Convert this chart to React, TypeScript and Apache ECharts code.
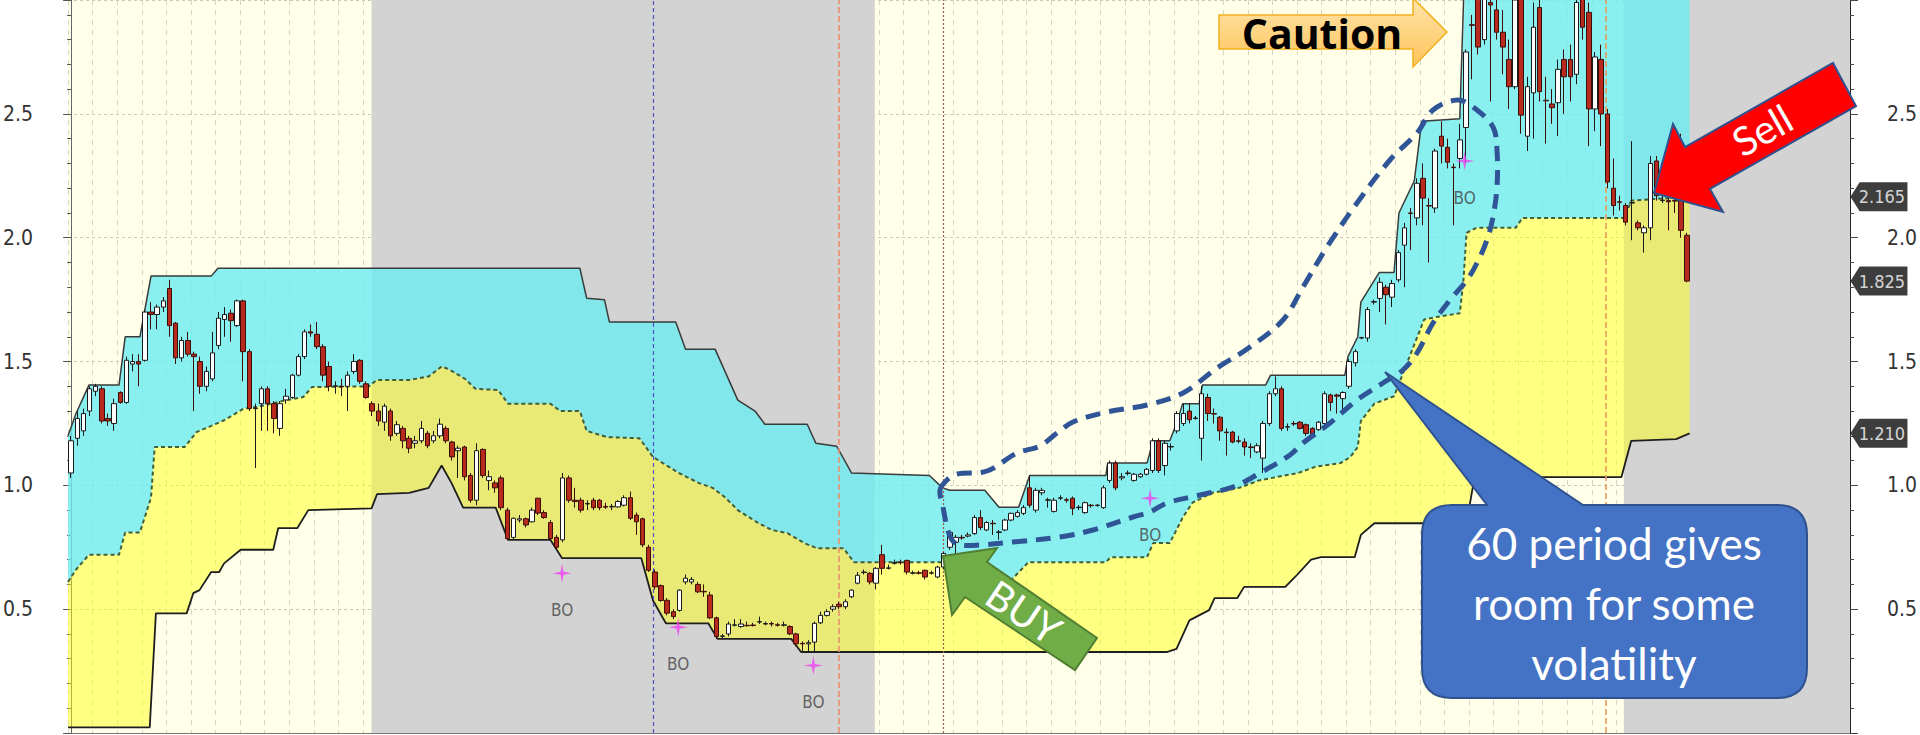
import React, { useEffect, useRef } from "react";
import * as echarts from "echarts";

// ---------- candles: [open, close, low, high] ----------
const candlesA: number[][] = [
  [1.05,1.18,1.03,1.20],[1.19,1.27,1.16,1.30],[1.22,1.29,1.20,1.31],[1.30,1.39,1.28,1.40],[1.38,1.40,1.36,1.41],
  [1.39,1.26,1.25,1.40],[1.27,1.26,1.24,1.29],[1.25,1.33,1.22,1.35],[1.375,1.335,1.33,1.38],[1.335,1.505,1.33,1.52],
  [1.49,1.50,1.46,1.53],[1.50,1.49,1.40,1.53],[1.505,1.70,1.50,1.71],[1.70,1.69,1.63,1.74],[1.69,1.72,1.63,1.73],
  [1.72,1.745,1.70,1.76],[1.795,1.645,1.60,1.83],[1.655,1.515,1.49,1.66],[1.515,1.585,1.50,1.60],[1.585,1.53,1.52,1.62],
  [1.53,1.52,1.30,1.54],[1.50,1.40,1.37,1.52],[1.40,1.46,1.38,1.48],[1.43,1.535,1.42,1.62],[1.565,1.675,1.55,1.70],
  [1.67,1.69,1.60,1.72],[1.695,1.665,1.58,1.71],[1.645,1.745,1.64,1.75],[1.745,1.54,1.42,1.75],[1.54,1.31,1.30,1.55],
  [1.31,1.312,1.07,1.33],[1.33,1.39,1.22,1.40],[1.39,1.33,1.22,1.40],[1.33,1.27,1.21,1.34],[1.23,1.33,1.20,1.34],
  [1.345,1.36,1.33,1.39],[1.355,1.445,1.35,1.45],[1.445,1.52,1.44,1.53],[1.52,1.62,1.51,1.63],[1.62,1.615,1.60,1.65],
  [1.61,1.56,1.55,1.66],[1.56,1.445,1.42,1.57],[1.48,1.40,1.38,1.50],[1.40,1.402,1.37,1.42],[1.40,1.398,1.36,1.43],
  [1.40,1.445,1.30,1.46],[1.46,1.50,1.45,1.53],[1.505,1.42,1.41,1.51],[1.41,1.355,1.35,1.42],[1.33,1.30,1.28,1.34],
  [1.30,1.26,1.24,1.33],[1.255,1.32,1.22,1.33],[1.30,1.20,1.18,1.31],[1.21,1.245,1.20,1.26],[1.23,1.18,1.15,1.24],
  [1.19,1.15,1.13,1.20],
];
const candlesB: number[][] = [
  [1.17,1.18,1.15,1.20],[1.18,1.23,1.17,1.26],[1.21,1.16,1.15,1.22],[1.18,1.20,1.17,1.22],[1.20,1.247,1.19,1.27],
  [1.23,1.18,1.17,1.24],[1.175,1.115,1.10,1.18],[1.14,1.15,1.03,1.16],[1.155,1.035,1.02,1.16],[1.04,0.94,0.93,1.05],
  [0.94,1.14,0.92,1.17],[1.145,1.04,1.03,1.15],[1.02,1.035,0.98,1.06],[1.01,0.99,0.97,1.02],[1.03,0.91,0.90,1.04],
  [0.90,0.785,0.78,0.91],[0.79,0.867,0.78,0.87],[0.86,0.865,0.85,0.88],[0.865,0.84,0.83,0.87],[0.853,0.90,0.85,0.91],
  [0.948,0.888,0.88,0.95],[0.89,0.87,0.865,0.90],[0.85,0.785,0.78,0.86],[0.79,0.75,0.74,0.80],[0.78,1.03,0.77,1.05],
  [1.03,0.94,0.93,1.04],[0.94,0.935,0.91,0.99],[0.94,0.90,0.89,0.95],[0.925,0.927,0.90,0.94],[0.94,0.91,0.90,0.95],
  [0.94,0.91,0.90,0.945],[0.915,0.912,0.905,0.93],[0.913,0.915,0.90,0.925],[0.913,0.935,0.91,0.94],[0.92,0.95,0.915,0.96],
  [0.95,0.867,0.86,0.975],[0.88,0.853,0.80,0.89],[0.865,0.76,0.75,0.87],[0.75,0.657,0.65,0.76],[0.65,0.59,0.58,0.66],
  [0.595,0.535,0.53,0.60],[0.536,0.484,0.475,0.545],[0.49,0.47,0.46,0.50],[0.495,0.577,0.49,0.58],[0.61,0.625,0.60,0.64],
  [0.61,0.62,0.60,0.63],[0.60,0.57,0.565,0.61],[0.572,0.57,0.55,0.60],[0.557,0.465,0.46,0.57],[0.465,0.39,0.38,0.47],
  [0.39,0.392,0.38,0.40],[0.40,0.44,0.39,0.45],[0.435,0.437,0.43,0.46],[0.43,0.44,0.425,0.46],[0.435,0.433,0.43,0.45],
  [0.436,0.434,0.43,0.445],[0.448,0.45,0.44,0.47],[0.44,0.442,0.435,0.45],[0.442,0.44,0.43,0.45],[0.437,0.435,0.43,0.445],
  [0.435,0.437,0.43,0.45],[0.43,0.40,0.395,0.435],[0.40,0.36,0.35,0.405],[0.362,0.36,0.33,0.37],[0.36,0.365,0.33,0.375],
  [0.367,0.443,0.33,0.45],[0.445,0.475,0.44,0.49],[0.475,0.49,0.47,0.50],[0.50,0.51,0.49,0.52],[0.52,0.51,0.50,0.53],
  [0.51,0.53,0.50,0.54],[0.55,0.577,0.545,0.58],
];
const candlesC: number[][] = [
  [0.605,0.637,0.60,0.65],[0.648,0.65,0.64,0.66],[0.645,0.61,0.60,0.65],[0.605,0.665,0.58,0.67],[0.72,0.665,0.64,0.76],
  [0.665,0.667,0.66,0.68],[0.685,0.688,0.68,0.70],[0.69,0.688,0.68,0.70],[0.697,0.65,0.64,0.70],[0.645,0.647,0.64,0.655],
  [0.647,0.645,0.64,0.655],[0.657,0.63,0.62,0.66],[0.645,0.647,0.64,0.655],[0.63,0.67,0.625,0.675],[0.67,0.725,0.66,0.73],
  [0.75,0.81,0.74,0.82],[0.77,0.79,0.72,0.80],[0.79,0.788,0.78,0.80],[0.795,0.80,0.79,0.81],[0.805,0.87,0.80,0.88],
  [0.87,0.83,0.82,0.90],[0.82,0.85,0.815,0.855],[0.847,0.845,0.80,0.86],[0.81,0.812,0.78,0.82],[0.82,0.86,0.815,0.865],
  [0.86,0.887,0.855,0.89],[0.875,0.89,0.87,0.90],[0.887,0.91,0.88,0.92],[0.99,0.92,0.91,1.04],[0.90,0.98,0.89,0.99],
  [0.97,0.98,0.96,0.99],[0.94,0.942,0.91,0.95],[0.895,0.94,0.89,0.95],[0.948,0.95,0.94,0.96],[0.942,0.94,0.93,0.95],
  [0.948,0.907,0.88,0.955],[0.91,0.912,0.90,0.92],[0.89,0.93,0.885,0.935],[0.92,0.918,0.91,0.925],[0.918,0.92,0.915,0.925],
  [0.91,0.99,0.905,1.0],[1.02,1.09,1.01,1.10],[1.09,0.99,0.98,1.10],[1.03,1.035,1.02,1.05],[1.048,1.05,1.04,1.06],
  [1.02,1.045,1.015,1.05],[1.035,1.045,1.03,1.05],[1.045,1.065,1.04,1.07],[1.06,1.18,1.05,1.19],[1.18,1.06,1.05,1.19],
  [1.08,1.17,1.04,1.18],[1.155,1.157,1.14,1.17],[1.22,1.29,1.21,1.30],[1.25,1.29,1.24,1.33],[1.30,1.265,1.25,1.33],
  [1.27,1.272,1.265,1.28],[1.19,1.37,1.10,1.40],[1.355,1.29,1.26,1.37],[1.29,1.288,1.25,1.31],[1.275,1.22,1.18,1.28],
  [1.215,1.213,1.12,1.23],[1.215,1.175,1.17,1.22],[1.18,1.178,1.17,1.20],[1.175,1.155,1.12,1.19],[1.155,1.153,1.11,1.17],
  [1.135,1.16,1.13,1.17],[1.11,1.25,1.05,1.26],[1.25,1.37,1.24,1.38],[1.37,1.39,1.36,1.44],[1.39,1.23,1.22,1.40],
  [1.235,1.237,1.22,1.25],[1.25,1.248,1.24,1.26],[1.255,1.23,1.225,1.26],[1.245,1.21,1.20,1.25],[1.23,1.20,1.19,1.235],
  [1.225,1.255,1.22,1.26],[1.25,1.37,1.24,1.38],[1.365,1.335,1.30,1.37],[1.365,1.36,1.29,1.37],[1.35,1.375,1.30,1.38],
];
const candlesD: number[][] = [
  [1.40,1.50,1.39,1.51],[1.495,1.54,1.48,1.55],[1.595,1.597,1.59,1.60],[1.595,1.71,1.58,1.72],[1.74,1.742,1.73,1.75],
  [1.755,1.82,1.70,1.84],[1.80,1.77,1.65,1.81],[1.76,1.815,1.72,1.83],[1.83,1.94,1.82,1.95],[1.97,2.04,1.80,2.06],
  [2.10,2.098,1.95,2.12],[2.08,2.22,2.05,2.24],[2.24,2.16,2.05,2.30],[2.13,2.128,1.90,2.16],[2.12,2.35,2.10,2.36],
  [2.41,2.37,2.30,2.47],[2.365,2.305,2.28,2.40],[2.285,2.283,2.05,2.30],[2.32,2.395,2.28,2.46],[2.445,2.75,2.30,2.76],
  [2.86,2.858,2.64,2.90],[3.0,2.77,2.74,3.05],[2.80,3.0,2.78,3.05],[2.95,2.94,2.55,3.05],[2.92,2.83,2.80,2.97],
  [2.83,2.77,2.66,2.92],[2.72,2.61,2.52,2.80],[2.61,2.96,2.60,3.05],[3.0,2.495,2.42,3.05],[2.41,2.61,2.35,2.65],
  [2.585,2.85,2.40,2.95],[2.93,2.59,2.55,2.97],[2.555,2.553,2.38,2.65],[2.54,2.525,2.46,2.60],[2.545,2.68,2.41,2.72],
  [2.72,2.65,2.50,2.76],[2.72,2.65,2.55,2.78],[2.66,2.95,2.62,2.97],[3.0,2.85,2.80,3.05],[2.91,2.52,2.37,2.95],
  [2.52,2.73,2.43,2.75],[2.72,2.50,2.37,2.78],[2.50,2.225,2.20,2.52],[2.20,2.13,2.09,2.32],[2.145,2.143,2.11,2.17],
  [2.13,2.063,2.05,2.14],[2.14,2.142,1.99,2.39],[2.06,2.04,2.03,2.07],[2.02,2.04,1.94,2.05],[2.04,2.30,1.99,2.33],
  [2.31,2.17,2.15,2.33],[2.15,2.152,2.14,2.17],[2.15,2.145,2.03,2.17],[2.15,2.148,2.10,2.17],[2.15,2.03,2.00,2.42],
  [2.01,1.825,1.82,2.02],
];

// ---------- channel lines: [bar index, price] ----------
const upperBand: number[][] = [
  [-0.5,1.20],[0.8,1.29],[2.9,1.405],[7.8,1.405],[8.8,1.60],[11.2,1.60],[13.0,1.845],[22.8,1.845],[23.9,1.877],
  [82.8,1.877],[83.9,1.756],[86.8,1.75],[87.6,1.66],[98.4,1.66],[100.0,1.55],[104.8,1.55],[108.5,1.344],[111.3,1.30],
  [112.9,1.247],[119.8,1.247],[121.2,1.17],[124.6,1.158],[127.0,1.05],[139.7,1.04],[141.8,0.99],[143.0,0.98],
  [148.7,0.98],[151.0,0.912],[154.2,0.912],[156.0,1.04],[168.4,1.04],[168.7,1.09],[175.1,1.09],[176.1,1.18],
  [178.8,1.18],[179.9,1.25],[180.9,1.33],[183.6,1.33],[184.1,1.405],[194.4,1.405],[195.2,1.445],[207.3,1.445],
  [207.8,1.52],[209.4,1.60],[209.9,1.74],[212.9,1.86],[215.3,1.86],[216.1,2.10],[218.6,2.23],[219.8,2.47],
  [226.0,2.48],[226.8,3.1],[263.4,3.1],
];
const midBand: number[][] = [
  [-0.5,0.61],[0.8,0.66],[2.9,0.72],[7.8,0.72],[8.8,0.81],[11.2,0.81],[13.0,0.95],[13.6,1.155],[18.5,1.155],
  [20.4,1.215],[22.8,1.24],[24.9,1.263],[28.1,1.31],[30.0,1.315],[35.2,1.345],[37.8,1.357],[39.2,1.397],[48.5,1.40],
  [49.7,1.425],[55.0,1.425],[58.2,1.44],[60.3,1.48],[61.4,1.47],[64.1,1.43],[65.8,1.39],[69.5,1.385],[71.1,1.33],
  [78.0,1.33],[79.6,1.30],[82.8,1.30],[83.9,1.22],[87.2,1.195],[92.5,1.19],[94.7,1.115],[96.3,1.09],[98.9,1.05],
  [102.1,1.01],[104.4,0.99],[106.5,0.95],[108.5,0.90],[111.7,0.85],[114.0,0.82],[116.6,0.807],[119.3,0.767],
  [121.4,0.746],[125.7,0.746],[127.4,0.69],[142.3,0.69],[143.4,0.62],[153.1,0.62],[155.8,0.69],[168.4,0.69],
  [169.2,0.71],[175.1,0.71],[176.1,0.767],[178.8,0.767],[180.9,0.87],[182.5,0.93],[185.7,0.97],[190.1,0.99],
  [193.3,1.02],[199.7,1.05],[202.5,1.075],[206.6,1.09],[208.2,1.115],[209.4,1.155],[209.9,1.26],[212.1,1.33],
  [215.3,1.36],[220.2,1.67],[222.2,1.68],[226.0,1.695],[226.6,1.83],[227.1,2.02],[228.7,2.04],[235.1,2.04],
  [236.2,2.08],[252.8,2.08],[253.9,2.15],[263.4,2.165],
];
const lowerBand: number[][] = [
  [-0.5,0.023],[12.8,0.023],[13.8,0.483],[18.8,0.483],[19.9,0.565],[20.9,0.577],[22.8,0.65],[24.1,0.65],[24.9,0.685],
  [27.6,0.74],[32.9,0.74],[33.7,0.827],[36.8,0.827],[38.6,0.90],[48.9,0.907],[49.8,0.965],[55.0,0.97],[58.2,0.99],
  [60.3,1.08],[61.9,1.01],[63.8,0.91],[69.1,0.91],[71.1,0.78],[78.0,0.78],[79.9,0.706],[92.8,0.706],[94.7,0.535],
  [96.8,0.443],[103.7,0.443],[105.2,0.38],[117.2,0.38],[118.8,0.327],[178.3,0.327],[179.9,0.34],[182.0,0.455],
  [185.2,0.496],[186.1,0.545],[189.8,0.545],[190.9,0.59],[197.6,0.59],[199.2,0.63],[201.8,0.70],[203.4,0.71],
  [208.9,0.71],[209.9,0.80],[212.1,0.847],[227.1,0.847],[228.4,1.033],[252.3,1.033],[253.9,1.18],[261.2,1.187],
  [263.4,1.21],
];

// ---------- other chart data ----------
const shadedRegions: number[][] = [[48.9, 130.8], [252.7, 289.5]];
const eventLines: number[] = [94.7, 125.0, 141.9, 249.8];
const breakouts: number[][] = [[79.9, 0.645], [98.8, 0.427], [120.8, 0.273], [175.6, 0.948], [226.8, 2.31]];
const priceTags: number[] = [2.165, 1.825, 1.21];
const calloutLines: string[] = ["60 period gives", "room for some", "volatility"];

const SLOTS = 290;
const Y_MIN = 0;
const Y_MAX = 2.96;
const NARROW = "'Liberation Sans Narrow', 'DejaVu Sans Condensed', 'Arial Narrow', sans-serif";

const CALLOUT_D =
  "M1452,505 L1487,505 L1385,372 L1583,505 L1777,505 Q1807,505 1807,535 L1807,668 Q1807,698 1777,698 L1452,698 Q1422,698 1422,668 L1422,535 Q1422,505 1452,505 Z";
echarts.graphic.registerShape("calloutBubble", echarts.graphic.extendPath(CALLOUT_D, {}));

const eventLineStyles = [
  { color: "#5050C8", type: [4, 3], width: 1.2 },
  { color: "#E8906C", type: [6, 3], width: 1.6 },
  { color: "#9C5A4A", type: [2, 2], width: 1.2 },
  { color: "#E89A5C", type: [6, 3], width: 1.6 },
];

const ellipsePts = [
  [940,490],[947,480],[957,474],[987,471],[1017,453],[1040,446],[1057,433],[1073,422],[1107,412],[1147,405],
  [1183,393],[1217,368],[1250,347],[1283,320],[1303,287],[1327,247],[1357,203],[1390,160],[1417,133],[1433,110],
  [1457,100],[1473,107],[1493,127],[1497,150],[1497,187],[1493,217],[1487,240],[1477,263],[1467,280],[1450,300],
  [1433,323],[1417,353],[1403,370],[1383,383],[1357,400],[1330,423],[1303,443],[1290,455],[1260,473],[1233,487],
  [1200,495],[1167,503],[1150,512],[1133,517],[1093,530],[1060,537],[1013,542],[980,545],[960,545],[952,540],
  [947,527],[943,507],
];

function buildOption(): any {
  const candles = [...candlesA, ...candlesB, ...candlesC, ...candlesD];
  const categories = Array.from({ length: SLOTS }, (_, i) => String(i));
  const labelFmt = (v: number) => {
    if (v <= 0) return "";
    return Math.abs(v * 2 - Math.round(v * 2)) < 1e-6 ? v.toFixed(1) : "";
  };
  const axisLabelBase = { color: "#333333", fontSize: 21, fontFamily: NARROW };

  return {
    animation: false,
    backgroundColor: "#FFFFFF",
    grid: { left: 57, right: 60, top: 0, bottom: 2, show: true, backgroundColor: "#FFFFEA", borderWidth: 0 },
    xAxis: [
      {
        type: "category", data: categories, boundaryGap: true, position: "bottom",
        axisLine: { show: true, lineStyle: { color: "#777", width: 1 } },
        axisTick: { show: false }, axisLabel: { show: false }, splitLine: { show: false },
      },
      {
        type: "value", min: -0.5, max: SLOTS - 0.5, interval: 4, position: "top",
        axisLine: { show: false }, axisTick: { show: false }, axisLabel: { show: false },
        splitLine: { show: true, lineStyle: { color: "#D6D6C6", type: [5, 5], width: 1 } },
      },
    ],
    yAxis: [
      {
        type: "value", min: Y_MIN, max: Y_MAX, interval: 0.5, position: "left",
        axisLine: { show: true, lineStyle: { color: "#666", width: 1 } },
        axisTick: { show: true, length: 8, lineStyle: { color: "#555" } },
        minorTick: { show: true, splitNumber: 5, length: 4, lineStyle: { color: "#555" } },
        axisLabel: { ...axisLabelBase, margin: 35, formatter: labelFmt },
        splitLine: { show: true, lineStyle: { color: "#C8C8BA", type: [3, 3], width: 1 } },
      },
      {
        type: "value", min: Y_MIN, max: Y_MAX, interval: 0.5, position: "right",
        axisLine: { show: true, lineStyle: { color: "#222", width: 1 } },
        axisTick: { show: true, length: 8, lineStyle: { color: "#444" } },
        minorTick: { show: true, splitNumber: 5, length: 4, lineStyle: { color: "#444" } },
        axisLabel: { ...axisLabelBase, margin: 37, formatter: labelFmt },
        splitLine: { show: false },
      },
    ],
    series: [
      {
        type: "custom", name: "channelFill", coordinateSystem: "cartesian2d",
        xAxisIndex: 1, yAxisIndex: 0, z: 2, silent: true,
        data: [[0, 0]], encode: { x: 0, y: 1 },
        renderItem: (_p: any, api: any) => {
          const toPt = (p: number[]) => api.coord([p[0], Math.min(p[1], Y_MAX)]);
          const up = upperBand.map(toPt);
          const mid = midBand.map(toPt);
          const lo = lowerBand.map(toPt);
          return {
            type: "group",
            children: [
              { type: "polygon", shape: { points: up.concat(mid.slice().reverse()) }, style: { fill: "rgba(109,236,240,0.8)" } },
              { type: "polygon", shape: { points: mid.concat(lo.slice().reverse()) }, style: { fill: "rgba(255,255,24,0.5)" } },
            ],
          };
        },
      },
      {
        type: "line", name: "upper", xAxisIndex: 1, yAxisIndex: 0, data: upperBand,
        symbol: "none", silent: true, z: 4, lineStyle: { color: "#3A3A3A", width: 1.5 },
      },
      {
        type: "line", name: "middle", xAxisIndex: 1, yAxisIndex: 0, data: midBand,
        symbol: "none", silent: true, z: 4, lineStyle: { color: "#3F5E3A", width: 2, type: [4, 3] },
        markLine: {
          silent: true, symbol: ["none", "none"], z: 5, label: { show: false },
          data: eventLines.map((x, k) => ({ xAxis: x, lineStyle: eventLineStyles[k] })),
        },
      },
      {
        type: "line", name: "lower", xAxisIndex: 1, yAxisIndex: 0, data: lowerBand,
        symbol: "none", silent: true, z: 4, lineStyle: { color: "#1E1E1E", width: 1.8 },
        markArea: {
          silent: true, z: 1, itemStyle: { color: "#D3D3D3" },
          data: shadedRegions.map(([a, b]) => [{ xAxis: a }, { xAxis: b }]),
        },
      },
      {
        type: "candlestick", name: "price", xAxisIndex: 0, yAxisIndex: 0, data: candles,
        barWidth: 5, z: 6, silent: true,
        itemStyle: { color: "#FFFFFF", color0: "#B8291E", borderColor: "#1A1A1A", borderColor0: "#3B0E0A", borderWidth: 1 },
      },
      {
        type: "scatter", name: "BO", xAxisIndex: 1, yAxisIndex: 0, data: breakouts, z: 7, silent: true,
        symbol: "path://M10,0 L11.6,8.4 L20,10 L11.6,11.6 L10,20 L8.4,11.6 L0,10 L8.4,8.4 Z",
        symbolSize: 19, itemStyle: { color: "#F040F0" },
        label: { show: true, formatter: "BO", position: "bottom", distance: 19, color: "#444444", fontSize: 17, fontFamily: NARROW },
      },
      {
        type: "scatter", name: "tags", xAxisIndex: 1, yAxisIndex: 0, z: 8, silent: true, clip: false,
        data: priceTags.map((v) => [SLOTS - 0.5, v]),
        symbol: "path://M0,14 L9,0 L56,0 L56,28 L9,28 Z", symbolSize: [57, 29], symbolOffset: [29, 0],
        itemStyle: { color: "#0D0D0D" },
        label: {
          show: true, position: "inside", offset: [3, 0], color: "#FFFFFF", fontSize: 18, fontFamily: NARROW,
          formatter: (p: any) => Number(p.value[1]).toFixed(3),
        },
      },
    ],
    graphic: [
      {
        type: "polygon", z: 100, silent: true,
        shape: { points: ellipsePts, smooth: 0.35 },
        style: { fill: "none", stroke: "#2F5597", lineWidth: 5, lineDash: [15, 9] },
      },
      {
        type: "polygon", z: 100, silent: true,
        shape: { points: [[1219,15],[1413,15],[1413,-2],[1447,32],[1413,67],[1413,49],[1219,49]] },
        style: {
          fill: new echarts.graphic.LinearGradient(0, 0, 0, 1, [
            { offset: 0, color: "#FFE3AA" }, { offset: 1, color: "#FFC55A" },
          ]),
          stroke: "#F2B01E", lineWidth: 1.5,
        },
      },
      {
        type: "text", z: 101, silent: true, x: 1322, y: 33,
        style: { text: "Caution", fill: "#000000", fontSize: 41, fontWeight: "bold", fontFamily: "'Open Sans'", align: "center", verticalAlign: "middle" },
      },
      {
        type: "polygon", z: 100, silent: true,
        shape: { points: [[1654,193],[1673,124],[1685,147],[1833,63],[1856,106],[1710,189],[1723,212]] },
        style: { fill: "#FF0000", stroke: "#2F528F", lineWidth: 2 },
      },
      {
        type: "text", z: 101, silent: true, x: 1762, y: 130, rotation: 0.517,
        style: { text: "Sell", fill: "#FFFFFF", fontSize: 40, fontFamily: "Lato", align: "center", verticalAlign: "middle" },
      },
      {
        type: "polygon", z: 100, silent: true,
        shape: { points: [[943,556],[997,548],[987,562],[1097,638],[1075,670],[965,597],[952,615]] },
        style: { fill: "#70AD47", stroke: "#507E32", lineWidth: 2 },
      },
      {
        type: "text", z: 101, silent: true, x: 1024, y: 612, rotation: -0.59,
        style: { text: "BUY", fill: "#FFFFFF", fontSize: 40, fontFamily: "Lato", align: "center", verticalAlign: "middle" },
      },
      {
        type: "calloutBubble", z: 100, silent: true, x: 0, y: 0,
        style: { fill: "#4472C4", stroke: "#2F528F", lineWidth: 2 },
      },
      ...calloutLines.map((t, k) => ({
        type: "text", z: 101, silent: true, x: 1614, y: 543 + k * 60,
        style: { text: t, fill: "#FFFFFF", fontSize: 44, fontFamily: "Lato", align: "center", verticalAlign: "middle" },
      })),
    ],
  };
}

export default function App() {
  const ref = useRef<HTMLDivElement>(null);
  useEffect(() => {
    document.body.style.margin = "0";
    const chart = echarts.init(ref.current as HTMLDivElement, null, { renderer: "svg" });
    chart.setOption(buildOption());
    return () => chart.dispose();
  }, []);
  return <div ref={ref} style={{ width: 1920, height: 735 }} />;
}
